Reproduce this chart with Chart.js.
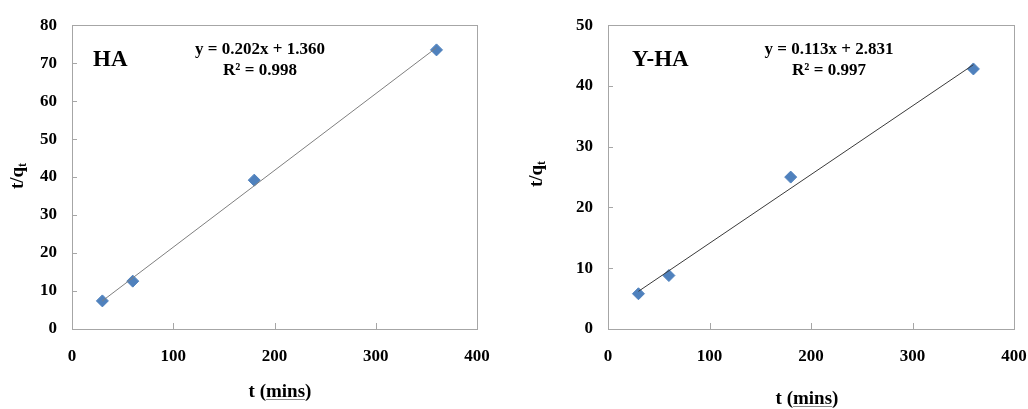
<!DOCTYPE html>
<html>
<head>
<meta charset="utf-8">
<script src="https://cdn.jsdelivr.net/npm/chart.js@4.4.0/dist/chart.umd.min.js"></script>
<style>
  html, body { margin: 0; padding: 0; background: #fff; overflow: hidden; }
  #wrap { position: relative; width: 1028px; height: 409px; overflow: hidden; }
  canvas { position: absolute; top: 0; }
</style>
</head>
<body>
<div id="wrap">
  <canvas id="chartHA" width="514" height="409" style="left:0"></canvas>
  <canvas id="chartYHA" width="550" height="409" style="left:514px"></canvas>
</div>
<script>
// sampling times (mins)
const times = [30, 60, 180, 360];
// t/qt values
const haValues = [7.4, 12.6, 39.2, 73.5];
const yhaValues = [5.8, 8.8, 25.0, 42.8];
// linear trendline end points
const fitX = [30, 360];
const haFit = [7.4, 74.1];
const yhaFit = [6.2, 43.5];
// ticks
const xTicks = [0, 100, 200, 300, 400];
const haYTicks = [0, 10, 20, 30, 40, 50, 60, 70, 80];
const yhaYTicks = [0, 10, 20, 30, 40, 50];

const SERIF = '"Liberation Serif", "Times New Roman", serif';
const MARKER = "#4f81bd";
const FRAME = "#a6a6a6";

const overlay = {
    id: "overlay",
    afterDraw(chart, args, o) {
        const ctx = chart.ctx;
        const a = chart.chartArea;
        const xs = chart.scales.x, ys = chart.scales.y;
        ctx.save();

        // plot frame + inward tick marks
        ctx.strokeStyle = FRAME;
        ctx.lineWidth = 1;
        ctx.strokeRect(Math.round(a.left) + 0.5, Math.round(a.top) + 0.5,
            Math.round(a.right - a.left), Math.round(a.bottom - a.top));
        ctx.beginPath();
        xs.ticks.forEach(t => {
            const px = Math.round(xs.getPixelForValue(t.value)) + 0.5;
            ctx.moveTo(px, a.bottom);
            ctx.lineTo(px, a.bottom - 6);
        });
        ys.ticks.forEach(t => {
            const py = Math.round(ys.getPixelForValue(t.value)) + 0.5;
            ctx.moveTo(a.left, py);
            ctx.lineTo(a.left + 5, py);
        });
        ctx.stroke();

        ctx.fillStyle = "#000";

        // sample label
        ctx.font = "bold 23px " + SERIF;
        ctx.textAlign = "left";
        ctx.textBaseline = "alphabetic";
        ctx.fillText(o.label, o.labelX, 66);

        // equation
        ctx.font = "bold 17px " + SERIF;
        ctx.textAlign = "center";
        ctx.fillText(o.eq, o.eqX, 54);
        ctx.fillText(o.r2, o.eqX, 75);

        // x title with spell-check underline under "mins"
        ctx.font = "bold 19px " + SERIF;
        ctx.textAlign = "center";
        const title = "t (mins)";
        ctx.fillText(title, o.xTitleX, o.xTitleY);
        const w = ctx.measureText(title).width;
        const startX = o.xTitleX - w / 2 + ctx.measureText("t (").width;
        const mw = ctx.measureText("mins").width;
        ctx.strokeStyle = "#8c8c8c";
        ctx.beginPath();
        ctx.moveTo(startX, o.xTitleY + 2.5);
        ctx.lineTo(startX + mw, o.xTitleY + 2.5);
        ctx.stroke();

        // y title t/q_t
        ctx.translate(o.yTitleX, o.yTitleY);
        ctx.rotate(-Math.PI / 2);
        ctx.textAlign = "left";
        ctx.textBaseline = "middle";
        ctx.font = "bold 19px " + SERIF;
        const main = "t/q";
        const mW = ctx.measureText(main).width;
        ctx.font = "bold 12px " + SERIF;
        const sW = ctx.measureText("t").width;
        const total = mW + sW;
        ctx.font = "bold 19px " + SERIF;
        ctx.fillText(main, -total / 2, 0);
        ctx.font = "bold 12px " + SERIF;
        ctx.fillText("t", -total / 2 + mW, 5);

        ctx.restore();
    }
};

function makeChart(id, values, fitY, yTicks, yMax, fitColor, layout, extra) {
    const ctx = document.getElementById(id).getContext("2d");
    return new Chart(ctx, {
        type: "scatter",
        data: {
            datasets: [
                {
                    type: "line",
                    data: fitX.map((x, i) => ({ x: x, y: fitY[i] })),
                    borderColor: fitColor,
                    borderWidth: 1,
                    pointRadius: 0,
                    fill: false,
                    order: 0
                },
                {
                    data: times.map((t, i) => ({ x: t, y: values[i] })),
                    pointStyle: "rectRot",
                    pointRadius: 6,
                    backgroundColor: MARKER,
                    borderColor: MARKER,
                    borderWidth: 1,
                    order: 1
                }
            ]
        },
        options: {
            responsive: false,
            animation: false,
            devicePixelRatio: 1,
            layout: { padding: { left: 0, top: layout.top, right: layout.right, bottom: 0 } },
            plugins: {
                legend: { display: false },
                tooltip: { enabled: false },
                overlay: extra
            },
            scales: {
                x: {
                    type: "linear",
                    min: 0,
                    max: 400,
                    afterBuildTicks: s => { s.ticks = xTicks.map(v => ({ value: v })); },
                    afterFit: s => { s.height = 80; },
                    grid: { display: false, drawTicks: false },
                    border: { display: false },
                    ticks: { color: "#000", padding: 17, font: { family: SERIF, size: 17, weight: "bold" } }
                },
                y: {
                    type: "linear",
                    min: 0,
                    max: yMax,
                    afterBuildTicks: s => { s.ticks = yTicks.map(v => ({ value: v })); },
                    afterFit: s => { s.width = layout.left; },
                    grid: { display: false, drawTicks: false },
                    border: { display: false },
                    ticks: { color: "#000", padding: 15, font: { family: SERIF, size: 17, weight: "bold" } }
                }
            }
        },
        plugins: [overlay]
    });
}

makeChart("chartHA", haValues, haFit, haYTicks, 80, "#7f7f7f",
    { left: 72, top: 21, right: 37 },
    { label: "HA", labelX: 93, eq: "y = 0.202x + 1.360", r2: "R\u00b2 = 0.998", eqX: 260,
      xTitleX: 280, xTitleY: 397, yTitleX: 18, yTitleY: 176 });

makeChart("chartYHA", yhaValues, yhaFit, yhaYTicks, 50, "#3a3a3a",
    { left: 94, top: 18, right: 50 },
    { label: "Y-HA", labelX: 118, eq: "y = 0.113x + 2.831", r2: "R\u00b2 = 0.997", eqX: 315,
      xTitleX: 293, xTitleY: 404, yTitleX: 23, yTitleY: 174 });
</script>
</body>
</html>
